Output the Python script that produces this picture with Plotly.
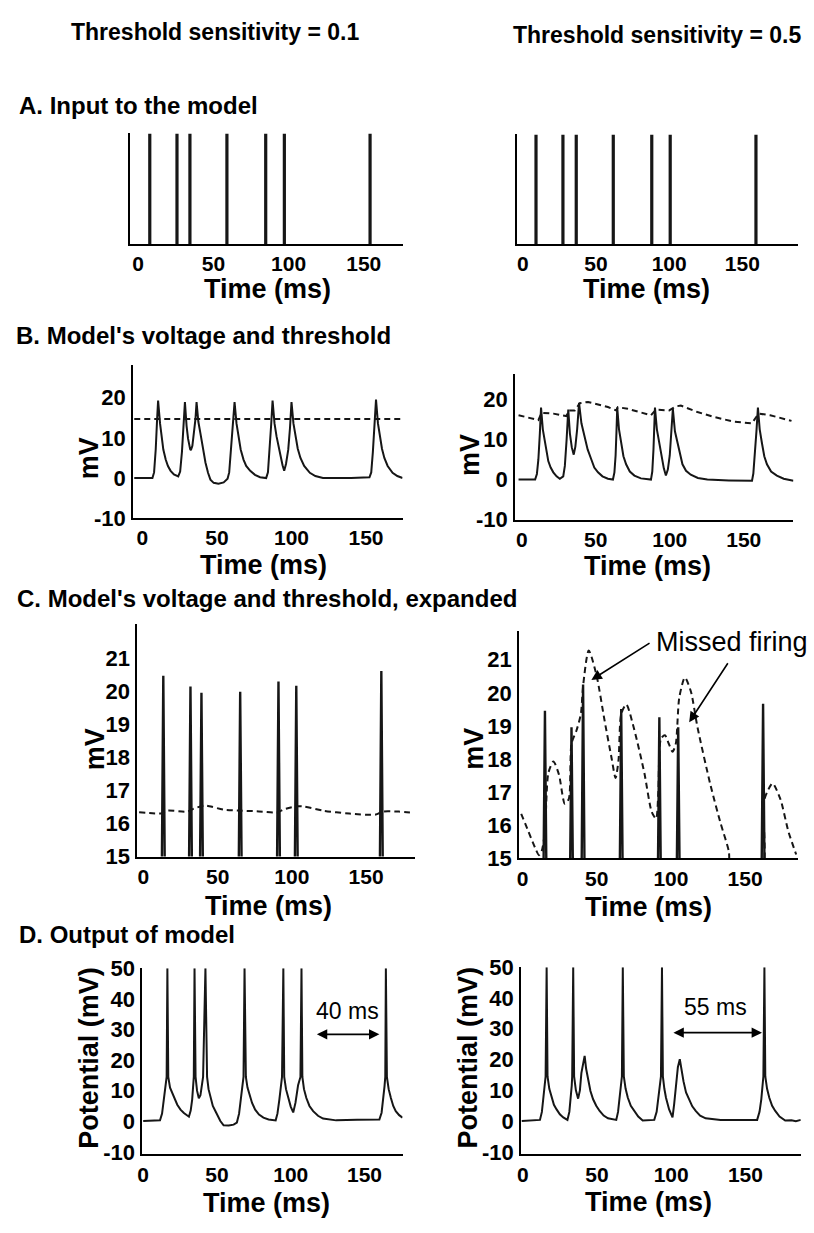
import plotly.graph_objects as go

W, H = 814, 1233
FONT = "Liberation Sans, Arial, Helvetica, sans-serif"
INK = "#161616"

# ---------------- data ----------------
# A: input spike times (ms)
input_left = [7.7, 25.8, 34.4, 59.0, 84.8, 97.2, 154.2]
input_right = [9.0, 27.4, 36.5, 61.8, 88.1, 100.7, 159.3]

# B: model voltage and threshold (mV)
bl_t = [-5.5, 6.7, 7.8, 8.9, 9.8, 10.5, 11.8, 12.7, 14.0, 15.6, 17.1, 18.9, 21.1, 24.0,
        25.3, 26.5, 27.6, 28.5, 29.6, 30.6, 32.0, 32.5, 33.5, 34.8, 35.6, 36.3,
        37.5, 38.9, 40.4, 42.3, 44.0, 45.6, 47.8, 51.0, 54.5, 57.1,
        58.2, 59.3, 60.9, 61.8, 63.1, 64.5, 65.9, 67.8, 69.6, 72.3, 75.5, 78.9, 83.0,
        84.2, 85.3, 86.4, 87.3, 88.6, 90.0, 91.3, 92.7, 94.0, 95.1, 96.3, 97.8, 99.0, 100.0,
        101.3, 102.7, 104.2, 106.0, 108.5, 112.3, 116.0, 121.1, 140.0, 152.3,
        153.5, 154.6, 155.8, 156.7, 158.0, 159.3, 160.7, 162.3, 164.5, 167.8, 171.0, 174.5]
bl_v = [0, 0, 1.4, 7.1, 14.4, 19.3, 13.6, 10.3, 7.1, 4.6, 3.0, 1.8, 0.9, 0.4,
        1.6, 6.5, 13.5, 18.9, 13.0, 9.8, 7.2, 6.9, 8.0, 11.5, 14.8, 18.9,
        14.0, 11.1, 7.5, 3.8, 1.3, -0.4, -1.2, -1.4, -1.1, -0.2,
        1.4, 6.5, 14.0, 18.9, 13.6, 10.3, 7.1, 4.6, 3.0, 1.8, 0.8, 0.2, 0,
        1.4, 6.5, 13.5, 19.3, 13.6, 10.3, 7.5, 5.5, 3.2, 1.8, 3.5, 7.0, 12.5, 18.9,
        13.6, 10.3, 7.3, 5.0, 3.0, 1.3, 0.5, 0, 0, 0.2,
        1.4, 6.5, 13.5, 19.5, 13.6, 10.3, 7.3, 5.0, 3.0, 1.3, 0.5, 0]
bl_thr_t = [-5.5, 174.5]
bl_thr_v = [14.7, 14.7]

br_t = [-2.2, 9.0, 10.2, 11.2, 12.2, 13.0, 14.2, 15.7, 16.8, 17.9, 19.5, 21.3, 23.5, 25.7, 28.0,
        29.1, 30.3, 31.4, 32.5, 33.8, 35.1, 36.2, 37.4, 38.7,
        40.3, 42.5, 44.5, 47.0, 49.0, 51.5, 54.5, 58.2, 61.6,
        62.6, 63.4, 64.0, 64.5, 65.7, 67.2, 68.7, 70.5, 73.0, 76.1, 80.5, 87.3,
        88.2, 89.0, 89.5, 90.0, 91.3, 92.9, 94.5, 96.0, 97.4, 98.7, 100.0, 101.1, 102.1,
        103.5, 105.2, 106.8, 108.6, 111.0, 114.2, 119.0, 125.4, 140.0, 155.6,
        156.5, 157.5, 158.6, 159.6, 160.8, 162.3, 163.9, 165.7, 168.5, 172.4, 177.0, 183.6]
br_v = [0, 0, 1.4, 5.0, 11.5, 17.9, 12.5, 9.1, 6.5, 4.6, 3.0, 1.8, 0.8, 0.2, 0.8,
        3.4, 10.0, 17.4, 11.5, 8.0, 6.2, 8.2, 12.5, 19.1,
        14.0, 10.7, 7.5, 5.0, 3.0, 1.8, 0.8, 0.2, 0,
        1.8, 6.0, 12.0, 17.9, 12.5, 9.1, 5.8, 3.8, 2.0, 1.0, 0.3, 0,
        2.0, 7.5, 12.5, 17.9, 12.5, 9.1, 5.5, 2.8, 1.0, 2.5, 6.0, 11.5, 17.6,
        12.0, 9.1, 6.0, 3.8, 2.2, 1.2, 0.4, 0, -0.2, -0.3,
        1.5, 6.0, 12.0, 17.9, 12.5, 9.1, 5.8, 3.8, 2.0, 1.0, 0.2, -0.3]
br_thr_t = [-2.2, 11.2, 13.4, 21.3, 30.2, 31.8, 35.8, 39.2, 44.8, 58.2, 63.8, 64.9, 71.6, 87.3, 90.7,
            99.6, 104.1, 107.5, 118.7, 129.8, 143.2, 155.6, 160.0, 167.9, 182.3]
br_thr_v = [16.0, 14.8, 16.6, 16.4, 15.8, 17.2, 17.2, 19.0, 19.3, 18.05, 17.2, 18.0, 17.6, 16.0, 17.4,
            17.2, 18.2, 18.4, 16.8, 15.6, 14.4, 14.0, 16.4, 16.0, 14.6]

# C: expanded view (mV)
cl_spike_t = [13.4, 31.7, 39.1, 65.2, 91.0, 103.0, 160.3]
cl_spike_v = [20.47, 20.15, 19.96, 19.99, 20.3, 20.17, 20.62]
cl_thr_t = [-2.9, 12.7, 16.1, 29.4, 33.9, 40.6, 42.8, 54.0, 65.2, 76.3, 90.8, 94.1, 103.0, 107.5,
            120.9, 138.7, 156.5, 161.0, 172.2, 181.1]
cl_thr_v = [16.34, 16.31, 16.39, 16.36, 16.45, 16.54, 16.54, 16.42, 16.39, 16.37, 16.34, 16.42, 16.52,
            16.52, 16.39, 16.30, 16.27, 16.36, 16.36, 16.33]

cr_spike_t = [15.1, 33.0, 40.8, 66.5, 92.2, 104.9, 162.1]
cr_spike_v = [19.46, 18.96, 20.25, 19.51, 19.26, 18.96, 19.67]
cr_thr_t = [-0.9, 4.0, 8.5, 11.1, 12.9, 15.1, 17.4, 20.8, 24.5, 28.5, 31.2, 33.0, 36.4, 39.3, 40.9,
            44.6, 49.8, 55.3, 59.8, 62.7, 64.7, 66.5, 69.9, 75.4, 82.1, 87.1, 90.0, 91.5, 93.3, 96.0,
            98.5, 101.1, 103.3, 105.6, 109.4, 113.4, 117.9, 126.8, 133.5, 139.0, 140.7, 161.0, 162.5,
            165.2, 168.5, 173.7, 179.2, 184.4]
cr_thr_v = [16.35, 15.81, 15.32, 15.1, 15.22, 15.81, 17.58, 17.93, 17.54, 16.65, 16.8, 18.47, 18.87,
            19.36, 20.25, 21.28, 20.54, 19.16, 18.08, 17.43, 17.98, 19.36, 19.65, 18.87, 17.58, 16.4,
            16.2, 16.99, 18.62, 18.72, 18.47, 18.22, 18.47, 19.85, 20.46, 20.05, 18.96, 17.19, 16.06,
            15.22, 14.5, 14.5, 16.7, 17.04, 17.27, 16.8, 15.81, 15.12]

# D: output potential (mV)
dl_t = [0, 11.4, 12.8, 14.1, 15.2, 15.9, 16.4, 17.0, 18.2, 19.7, 21.3, 23.1, 25.3, 27.6, 31.0,
        32.2, 33.2, 34.3, 34.8, 35.5, 36.5, 37.7, 38.8, 39.8, 40.6, 42.2, 43.3, 44.3, 45.6, 47.2,
        49.0, 50.6, 52.3, 54.5, 58.0, 61.3, 63.5,
        65.0, 66.2, 67.3, 68.0, 68.7, 69.6, 70.7, 72.0, 73.8, 75.9, 78.5, 81.5, 85.0, 89.8,
        91.0, 92.3, 93.4, 94.1, 95.0, 95.6, 96.8, 98.3, 100.0, 101.7, 103.2, 104.3, 105.0, 106.6,
        107.3, 107.9, 109.0, 110.6, 112.7, 115.2, 118.5, 121.9, 130.8, 145.0, 160.1,
        161.6, 162.8, 163.6, 164.1, 164.5, 165.2, 166.4, 167.9, 169.5, 171.2, 173.5, 175.8]
dl_v = [0.1, 0.3, 2.5, 7.1, 11.5, 14.5, 50, 14.5, 11.0, 9.1, 7.0, 5.4, 3.8, 2.7, 1.5,
        3.5, 7.1, 14.5, 50, 14.5, 10.0, 7.5, 8.5, 11.5, 14.5, 50, 14.5, 10.5, 7.6, 5.0,
        3.3, 1.5, 0.1, -1.3, -1.4, -1.1, -0.4,
        2.5, 7.1, 11.5, 14.5, 50, 14.5, 11.0, 9.1, 6.0, 3.8, 2.2, 1.2, 0.6, 0.3,
        2.5, 7.1, 11.5, 14.5, 50, 14.5, 10.5, 7.6, 4.8, 2.9, 6.0, 9.5, 11.8, 14.5,
        50, 14.5, 10.5, 7.6, 5.0, 3.3, 1.8, 0.9, 0.3, 0.5, 0.6,
        2.8, 7.1, 11.5, 14.5, 50, 14.5, 10.5, 7.6, 5.0, 3.3, 2.0, 1.2]

dr_t = [-0.7, 11.6, 12.9, 13.9, 14.8, 15.4, 16.1, 16.7, 17.9, 19.4, 21.0, 22.8, 25.0, 27.3, 30.1,
        31.4, 32.4, 33.0, 33.3, 34.0, 34.6, 35.8, 37.3, 38.5, 39.5, 40.7, 41.7, 42.7, 44.0, 45.6,
        47.4, 49.5, 51.8, 54.5, 57.4, 63.0,
        64.2, 65.2, 66.2, 66.8, 67.4, 68.1, 69.3, 70.8, 72.8, 75.2, 77.8, 80.8, 88.6,
        90.2, 91.3, 92.3, 93.1, 93.8, 94.4, 95.4, 96.5, 98.6, 100.9, 102.0, 103.1, 104.5, 105.8,
        107.0, 108.3, 110.0, 112.1, 114.2, 116.5, 119.5, 123.2, 133.3, 157.9,
        159.5, 160.7, 161.5, 162.1, 162.8, 163.4, 164.6, 166.1, 168.0, 170.1, 173.0, 176.8, 181.0,
        184.0, 187.3]
dr_v = [0, 0.4, 3.0, 7.1, 11.5, 14.5, 50, 14.5, 10.5, 7.6, 5.3, 3.8, 2.2, 1.2, 0.4,
        3.0, 7.1, 11.5, 14.5, 50, 14.5, 10.0, 7.3, 10.0, 15.6, 19.5, 21.2, 17.0, 13.5, 9.8,
        7.1, 5.0, 3.3, 1.8, 0.9, 0.4,
        3.0, 7.1, 11.5, 14.5, 50, 14.5, 10.5, 7.6, 5.0, 3.3, 1.5, 0.2, 0.4,
        3.0, 7.1, 11.5, 14.5, 50, 14.5, 10.5, 7.6, 3.8, 1.2, 5.5, 11.8, 17.5, 20.1,
        16.0, 12.9, 9.3, 7.1, 4.8, 3.3, 1.8, 0.9, 0.4, 0.4,
        3.0, 7.1, 11.5, 14.5, 50, 14.5, 10.5, 7.6, 5.0, 3.3, 1.5, 0.2, 0.3,
        0.0, 0.4]

time_ticks = [0, 50, 100, 150]
b_ticks = [-10, 0, 10, 20]
c_ticks = [15, 16, 17, 18, 19, 20, 21]
d_ticks = [-10, 0, 10, 20, 30, 40, 50]

# ---------------- layout geometry (pixels) ----------------
panels = {
    "AL": dict(dx=(125.7, 400), dy=(124, 236.7), xr=[-5.5, 175.8], yr=[0, 1], yt=None),
    "AR": dict(dx=(515, 798.3), dy=(125, 236.7), xr=[-4.1, 188.3], yr=[0, 1], yt=None),
    "BL": dict(dx=(129, 400), dy=(360, 516.7), xr=[-6.2, 174.5], yr=[-10, 28.2], yt=b_ticks),
    "BR": dict(dx=(513.3, 793.3), dy=(369.3, 518.3), xr=[-4.5, 183.6], yr=[-10, 26.3], yt=b_ticks),
    "CL": dict(dx=(133.3, 413), dy=(625, 862), xr=[-4, 183.3], yr=[15, 22.03], yt=c_ticks),
    "CR": dict(dx=(517.3, 798.3), dy=(631.7, 864), xr=[-2.3, 185.9], yr=[15, 21.87], yt=c_ticks),
    "DL": dict(dx=(138.3, 400), dy=(976, 1166), xr=[-0.5, 175.8], yr=[-10.8, 50], yt=d_ticks),
    "DR": dict(dx=(519.3, 800.7), dy=(975, 1166), xr=[-1.1, 187.3], yr=[-10.8, 50], yt=d_ticks),
}
order = ["AL", "AR", "BL", "BR", "CL", "CR", "DL", "DR"]
axid = {k: i + 1 for i, k in enumerate(order)}

fig = go.Figure()
layout = dict(width=W, height=H, margin=dict(l=0, r=0, t=0, b=0),
              paper_bgcolor="white", plot_bgcolor="white", showlegend=False,
              font=dict(family=FONT, color="black"))

for k in order:
    p = panels[k]
    i = axid[k]
    xs = "" if i == 1 else str(i)
    xa = dict(domain=[p["dx"][0] / W, p["dx"][1] / W], range=p["xr"], anchor="y" + xs,
              showline=True, linewidth=2, linecolor="black", showgrid=False, zeroline=False,
              ticks="", ticklen=0, tickvals=time_ticks,
              tickfont=dict(size=21, family=FONT, weight="bold", color="black"),
              ticklabelstandoff=0)
    ya = dict(domain=[1 - p["dy"][1] / H, 1 - p["dy"][0] / H], range=p["yr"], anchor="x" + xs,
              showline=True, linewidth=2, linecolor="black", showgrid=False, zeroline=False,
              ticks="", ticklen=0,
              tickfont=dict(size=22, family=FONT, weight="bold", color="black"), ticklabelstandoff=1)
    if p["yt"] is None:
        ya["showticklabels"] = False
    else:
        ya["tickvals"] = p["yt"]
        ya["ticktext"] = [str(v) for v in p["yt"]]
    layout["xaxis" + xs] = xa
    layout["yaxis" + xs] = ya

def ax(k):
    i = axid[k]
    s = "" if i == 1 else str(i)
    return "x" + s, "y" + s

def add_line(k, x, y, dash=None, width=2, shape="linear"):
    xr, yr = ax(k)
    line = dict(color=INK, width=width, dash=dash, shape=shape)
    if shape == "spline":
        line["smoothing"] = 0.7
    fig.add_trace(go.Scatter(x=x, y=y, mode="lines", xaxis=xr, yaxis=yr, hoverinfo="skip", line=line))

def spike_lines(times):
    xs, ys = [], []
    for t in times:
        xs += [t, t, None]
        ys += [0, 1, None]
    return xs, ys

def spike_triangles(times, peaks, half=1.1, base=14.0):
    xs, ys = [], []
    for t, v in zip(times, peaks):
        xs += [t - half, t, t + half, None]
        ys += [base, v, base, None]
    return xs, ys

# A
x, y = spike_lines(input_left); add_line("AL", x, y, width=3.2)
x, y = spike_lines(input_right); add_line("AR", x, y, width=3.2)
# B
add_line("BL", bl_t, bl_v)
add_line("BL", bl_thr_t, bl_thr_v, dash="6px,4px")
add_line("BR", br_t, br_v)
add_line("BR", br_thr_t, br_thr_v, dash="6px,4px")
# C
x, y = spike_triangles(cl_spike_t, cl_spike_v); add_line("CL", x, y, width=2.4)
add_line("CL", cl_thr_t, cl_thr_v, dash="6px,4px", shape="spline")
x, y = spike_triangles(cr_spike_t, cr_spike_v); add_line("CR", x, y, width=2.4)
add_line("CR", cr_thr_t, cr_thr_v, dash="6px,4px", shape="spline")
# D
add_line("DL", dl_t, dl_v, width=2)
add_line("DR", dr_t, dr_v, width=2)

# ---------------- text ----------------
ann = []
def ptext(text, xpx, ypx, size, bold=True, xanchor="center", angle=0):
    ann.append(dict(text=text, x=xpx / W, y=1 - ypx / H, xref="paper", yref="paper",
                    xanchor=xanchor, yanchor="middle", showarrow=False, textangle=angle,
                    font=dict(size=size, family=FONT, color="black", weight="bold" if bold else "normal")))

ptext("Threshold sensitivity = 0.1", 211, 20, 23)
ptext("Threshold sensitivity = 0.5", 656, 23, 23)
ptext("A. Input to the model", 12, 95, 24, xanchor="left")
ptext("B. Model's voltage and threshold", 9, 330, 24, xanchor="left")
ptext("C. Model's voltage and threshold, expanded", 10, 599, 24, xanchor="left")
ptext("D. Output of model", 12, 942, 24, xanchor="left")

for xp, yp in [(264, 283), (645, 283), (260, 564), (646, 565), (265, 913), (647, 914), (263, 1216), (647, 1215)]:
    ptext("Time (ms)", xp, yp, 27)
for xp, yp in [(84, 455), (468, 452), (90, 752), (472, 752)]:
    ptext("mV", xp, yp, 27, angle=-90)
for xp, yp in [(85, 1067), (466, 1067)]:
    ptext("Potential (mV)", xp, yp, 27, angle=-90)

# data-anchored labels and arrows
def dtext(k, text, x, y, size):
    xr, yr = ax(k)
    ann.append(dict(text=text, x=x, y=y, xref=xr, yref=yr, showarrow=False, xanchor="center",
                    yanchor="middle", font=dict(size=size, family=FONT, color="black")))

def darrow(k, x, y, x0, y0, both=False):
    xr, yr = ax(k)
    ann.append(dict(text="", x=x, y=y, ax=x0, ay=y0, xref=xr, yref=yr, axref=xr, ayref=yr,
                    showarrow=True, arrowhead=2, arrowsize=1.3, arrowwidth=1.6, arrowcolor="black",
                    arrowside="end+start" if both else "end", standoff=0, startstandoff=0))

dtext("CR", "Missed firing", 141.2, 21.53, 27)
darrow("CR", 46.4, 20.39, 86.6, 21.53)
darrow("CR", 112.3, 19.11, 139.0, 20.94)

dtext("DL", "40 ms", 138.7, 35.9, 23)
darrow("DL", 160.1, 28.4, 116.7, 28.4, both=True)
dtext("DR", "55 ms", 129.9, 37.2, 23)
darrow("DR", 161.2, 28.75, 100.5, 28.75, both=True)

layout["annotations"] = ann
fig.update_layout(**layout)
fig.write_html("out.html")
